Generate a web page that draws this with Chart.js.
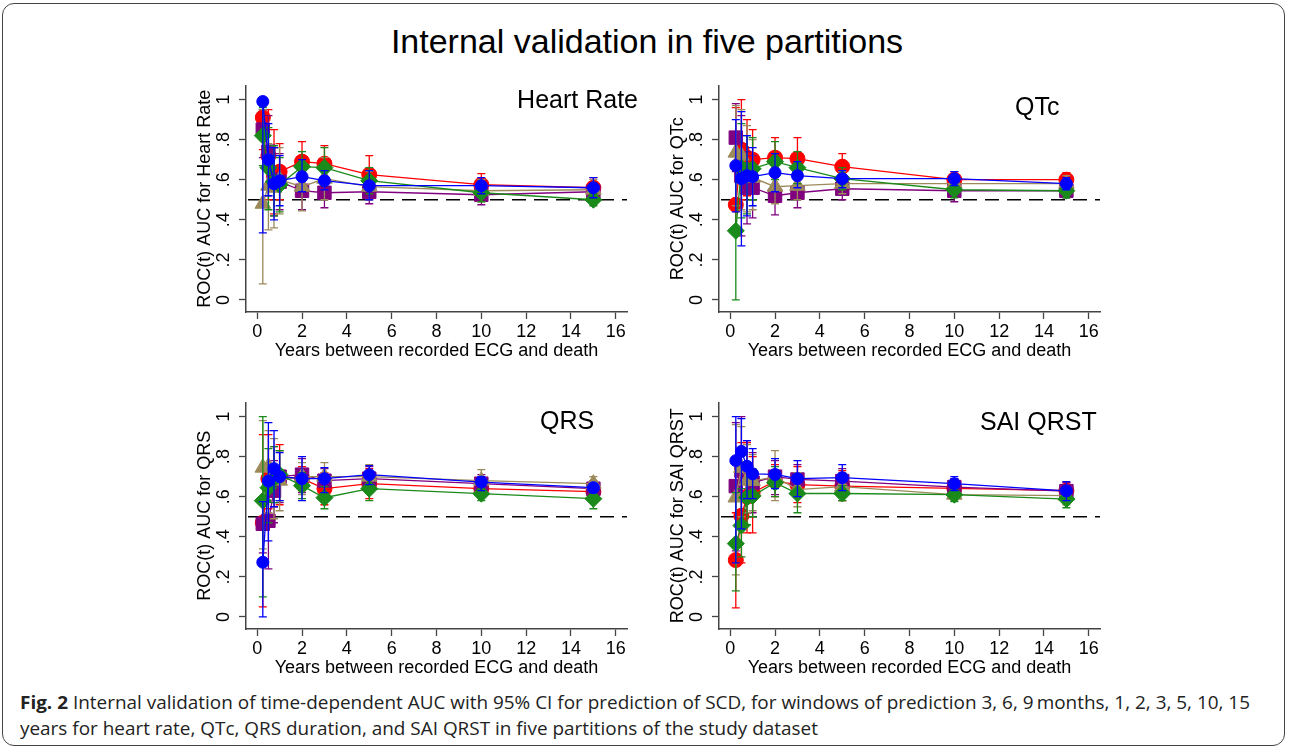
<!DOCTYPE html>
<html>
<head>
<meta charset="utf-8">
<script src="https://cdn.jsdelivr.net/npm/chart.js@4.4.1/dist/chart.umd.min.js"></script>
<style>
  html, body { margin: 0; padding: 0; background: #fff; }
  body { width: 1290px; height: 752px; position: relative; overflow: hidden; font-family: "Liberation Sans", Arial, sans-serif; }
  #frame { position: absolute; left: 2px; top: 3px; width: 1283px; height: 743px; border: 1.2px solid #444; border-radius: 12px; box-sizing: border-box; }
  #title { position: absolute; left: 0; width: 1294px; top: 21px; text-align: center; font-size: 34px; line-height: 40px; color: #000; }
  canvas { position: absolute; }
  #caption { position: absolute; left: 20px; top: 689px; font-family: "Open Sans", sans-serif; font-size: 18.5px; line-height: 26px; color: #222; white-space: nowrap; transform-origin: 0 0; }
  #caption b { font-weight: 700; }
</style>
</head>
<body>
<div id="frame"></div>
<div id="title">Internal validation in five partitions</div>
<canvas id="c1" width="460" height="290" style="left:180px;top:75px"></canvas>
<canvas id="c2" width="460" height="290" style="left:653px;top:75px"></canvas>
<canvas id="c3" width="460" height="290" style="left:180px;top:392px"></canvas>
<canvas id="c4" width="460" height="290" style="left:653px;top:392px"></canvas>
<div id="caption"><span id="cap1"><b>Fig. 2</b> Internal validation of time-dependent AUC with 95% CI for prediction of SCD, for windows of prediction 3, 6, 9&#8201;months, 1, 2, 3, 5, 10, 15</span><br><span>years for heart rate, QTc, QRS duration, and SAI QRST in five partitions of the study dataset</span></div>
<script>
// ---- data ----
const years = [0.25, 0.5, 0.75, 1, 2, 3, 5, 10, 15];
const xTickValues = [0, 2, 4, 6, 8, 10, 12, 14, 16];
const yTickValues = [0, 0.2, 0.4, 0.6, 0.8, 1];
const yTickLabels = ["0", ".2", ".4", ".6", ".8", "1"];
const panelNames = ["Heart Rate", "QTc", "QRS", "SAI QRST"];
const xTitle = "Years between recorded ECG and death";

// Heart Rate
const hrRed      = [0.91, 0.72, 0.62, 0.64, 0.69, 0.68, 0.625, 0.575, 0.56];
const hrRedLo    = [0.75, 0.50, 0.43, 0.50, 0.59, 0.59, 0.53, 0.52, 0.51];
const hrRedHi    = [0.95, 0.95, 0.85, 0.78, 0.79, 0.77, 0.72, 0.63, 0.61];
const hrPurple   = [0.85, 0.74, 0.60, 0.59, 0.545, 0.535, 0.54, 0.525, 0.54];
const hrPurpleLo = [0.71, 0.52, 0.42, 0.45, 0.45, 0.46, 0.48, 0.475, 0.50];
const hrPurpleHi = [0.95, 0.92, 0.76, 0.73, 0.64, 0.61, 0.60, 0.57, 0.58];
const hrSand     = [0.48, 0.57, 0.56, 0.60, 0.565, 0.605, 0.565, 0.545, 0.55];
const hrSandLo   = [0.08, 0.35, 0.36, 0.43, 0.445, 0.50, 0.50, 0.49, 0.51];
const hrSandHi   = [0.95, 0.78, 0.77, 0.76, 0.70, 0.71, 0.64, 0.60, 0.60];
const hrGreen    = [0.82, 0.66, 0.59, 0.575, 0.665, 0.66, 0.595, 0.535, 0.50];
const hrGreenLo  = [0.67, 0.45, 0.42, 0.44, 0.59, 0.57, 0.53, 0.49, 0.47];
const hrGreenHi  = [0.96, 0.86, 0.77, 0.71, 0.74, 0.76, 0.66, 0.58, 0.53];
const hrBlue     = [0.99, 0.70, 0.58, 0.595, 0.615, 0.595, 0.57, 0.57, 0.56];
const hrBlueLo   = [0.335, 0.52, 0.40, 0.47, 0.54, 0.55, 0.50, 0.53, 0.51];
const hrBlueHi   = [1.0, 0.88, 0.76, 0.72, 0.70, 0.645, 0.645, 0.61, 0.61];

// QTc
const qtRed      = [0.475, 0.75, 0.71, 0.70, 0.71, 0.705, 0.665, 0.60, 0.60];
const qtRedLo    = [0.36, 0.50, 0.52, 0.55, 0.61, 0.60, 0.61, 0.565, 0.565];
const qtRedHi    = [0.96, 1.0, 0.90, 0.85, 0.81, 0.81, 0.73, 0.64, 0.635];
const qtPurple   = [0.81, 0.62, 0.56, 0.56, 0.52, 0.535, 0.555, 0.545, 0.545];
const qtPurpleLo = [0.64, 0.32, 0.38, 0.41, 0.425, 0.46, 0.50, 0.49, 0.51];
const qtPurpleHi = [0.98, 0.92, 0.74, 0.72, 0.62, 0.61, 0.61, 0.59, 0.58];
const qtSand     = [0.735, 0.72, 0.65, 0.61, 0.565, 0.57, 0.58, 0.58, 0.58];
const qtSandLo   = [0.47, 0.45, 0.44, 0.45, 0.48, 0.50, 0.53, 0.54, 0.54];
const qtSandHi   = [0.97, 0.95, 0.87, 0.80, 0.66, 0.64, 0.64, 0.62, 0.62];
const qtGreen    = [0.345, 0.66, 0.65, 0.655, 0.69, 0.66, 0.605, 0.55, 0.545];
const qtGreenLo  = [0.0, 0.41, 0.43, 0.50, 0.60, 0.58, 0.55, 0.51, 0.51];
const qtGreenHi  = [0.68, 0.88, 0.82, 0.81, 0.79, 0.74, 0.66, 0.59, 0.58];
const qtBlue     = [0.67, 0.605, 0.62, 0.615, 0.635, 0.62, 0.605, 0.605, 0.58];
const qtBlueLo   = [0.44, 0.27, 0.42, 0.47, 0.54, 0.56, 0.56, 0.57, 0.55];
const qtBlueHi   = [0.90, 0.94, 0.82, 0.76, 0.73, 0.69, 0.645, 0.64, 0.61];

// QRS
const qrsRed      = [0.47, 0.69, 0.70, 0.70, 0.69, 0.64, 0.665, 0.64, 0.625];
const qrsRedLo    = [0.05, 0.54, 0.55, 0.56, 0.63, 0.56, 0.59, 0.60, 0.58];
const qrsRedHi    = [0.91, 0.91, 0.85, 0.86, 0.75, 0.72, 0.74, 0.69, 0.67];
const qrsPurple   = [0.465, 0.48, 0.63, 0.70, 0.71, 0.68, 0.69, 0.665, 0.64];
const qrsPurpleLo = [0.32, 0.24, 0.47, 0.57, 0.62, 0.58, 0.62, 0.60, 0.59];
const qrsPurpleHi = [0.60, 0.75, 0.78, 0.83, 0.79, 0.74, 0.75, 0.71, 0.68];
const qrsSand     = [0.745, 0.75, 0.72, 0.68, 0.70, 0.70, 0.70, 0.68, 0.665];
const qrsSandLo   = [0.34, 0.52, 0.49, 0.53, 0.61, 0.62, 0.62, 0.63, 0.61];
const qrsSandHi   = [0.98, 0.93, 0.89, 0.83, 0.77, 0.77, 0.76, 0.735, 0.70];
const qrsGreen    = [0.58, 0.645, 0.69, 0.71, 0.655, 0.595, 0.64, 0.615, 0.59];
const qrsGreenLo  = [0.10, 0.47, 0.57, 0.58, 0.59, 0.54, 0.58, 0.58, 0.54];
const qrsGreenHi  = [1.0, 0.84, 0.85, 0.83, 0.72, 0.65, 0.70, 0.655, 0.63];
const qrsBlue     = [0.273, 0.678, 0.74, 0.70, 0.69, 0.69, 0.71, 0.673, 0.645];
const qrsBlueLo   = [0.0, 0.38, 0.55, 0.58, 0.58, 0.62, 0.66, 0.63, 0.62];
const qrsBlueHi   = [0.575, 0.97, 0.93, 0.82, 0.80, 0.745, 0.755, 0.70, 0.665];

// SAI QRST
const saiRed      = [0.284, 0.505, 0.60, 0.62, 0.678, 0.66, 0.653, 0.642, 0.63];
const saiRedLo    = [0.045, 0.27, 0.42, 0.42, 0.60, 0.57, 0.58, 0.60, 0.57];
const saiRedHi    = [0.52, 0.87, 0.87, 0.80, 0.76, 0.75, 0.73, 0.69, 0.67];
const saiPurple   = [0.653, 0.73, 0.70, 0.67, 0.70, 0.686, 0.678, 0.648, 0.628];
const saiPurpleLo = [0.33, 0.46, 0.52, 0.52, 0.61, 0.60, 0.60, 0.60, 0.57];
const saiPurpleHi = [0.97, 1.0, 0.88, 0.82, 0.78, 0.76, 0.74, 0.69, 0.67];
const saiSand     = [0.596, 0.744, 0.68, 0.678, 0.70, 0.635, 0.65, 0.61, 0.605];
const saiSandLo   = [0.21, 0.50, 0.52, 0.53, 0.58, 0.55, 0.58, 0.58, 0.56];
const saiSandHi   = [0.96, 0.95, 0.86, 0.81, 0.83, 0.72, 0.72, 0.65, 0.645];
const saiGreen    = [0.366, 0.456, 0.596, 0.604, 0.67, 0.616, 0.616, 0.61, 0.588];
const saiGreenLo  = [0.13, 0.30, 0.46, 0.50, 0.60, 0.52, 0.58, 0.575, 0.545];
const saiGreenHi  = [0.62, 0.64, 0.74, 0.74, 0.75, 0.70, 0.655, 0.645, 0.63];
const saiBlue     = [0.78, 0.826, 0.752, 0.714, 0.711, 0.69, 0.695, 0.665, 0.629];
const saiBlueLo   = [0.27, 0.44, 0.59, 0.59, 0.64, 0.60, 0.63, 0.63, 0.58];
const saiBlueHi   = [1.0, 0.99, 0.88, 0.84, 0.79, 0.78, 0.76, 0.70, 0.675];

// ---- styles ----
const partitionStyles = [
  { color: '#ff0000', pointStyle: 'circle',   radius: 7.5 },
  { color: '#800080', pointStyle: 'rect',     radius: 9.5 },
  { color: '#9c8a5a', pointStyle: 'triangle', radius: 9 },
  { color: '#1a8a1a', pointStyle: 'rectRot',  radius: 8.5 },
  { color: '#0000ff', pointStyle: 'circle',   radius: 6 }
];

const FONT = "'Liberation Sans', Arial, sans-serif";

const errorBars = {
  id: 'errorBars',
  beforeDatasetDraw(chart, args) {
    const ds = chart.data.datasets[args.index];
    if (!ds.lo) return;
    const xs = chart.scales.x, ys = chart.scales.y, ctx = chart.ctx;
    ctx.save();
    ctx.strokeStyle = ds.borderColor;
    ctx.lineWidth = 1.3;
    ds.data.forEach((p, i) => {
      const x = xs.getPixelForValue(p.x);
      const y1 = ys.getPixelForValue(ds.lo[i]);
      const y2 = ys.getPixelForValue(ds.hi[i]);
      ctx.beginPath();
      ctx.moveTo(x, y1); ctx.lineTo(x, y2);
      ctx.moveTo(x - 4, y1); ctx.lineTo(x + 4, y1);
      ctx.moveTo(x - 4, y2); ctx.lineTo(x + 4, y2);
      ctx.stroke();
    });
    ctx.restore();
  }
};

const refLine = {
  id: 'refLine',
  beforeDatasetsDraw(chart) {
    const ys = chart.scales.y, a = chart.chartArea, ctx = chart.ctx;
    const y = ys.getPixelForValue(0.5);
    ctx.save();
    ctx.strokeStyle = '#000';
    ctx.lineWidth = 1.5;
    ctx.setLineDash([14, 8]);
    ctx.beginPath();
    ctx.moveTo(a.left + 2, y); ctx.lineTo(a.right, y);
    ctx.stroke();
    ctx.restore();
  }
};

const panelLabel = {
  id: 'panelLabel',
  afterDraw(chart, args, opts) {
    const ctx = chart.ctx;
    ctx.save();
    ctx.font = '25px ' + FONT;
    ctx.fillStyle = '#000';
    ctx.textAlign = opts.align;
    ctx.textBaseline = 'alphabetic';
    ctx.fillText(opts.text, opts.x, opts.y);
    ctx.restore();
  }
};

function noPad(s) { s.paddingTop = 0; s.paddingBottom = 0; s.paddingLeft = 0; s.paddingRight = 0; }

function makeChart(id, series, name, label) {
  const datasets = series.map((s, k) => {
    const st = partitionStyles[k];
    return {
      data: years.map((x, i) => ({ x: x, y: s[0][i] })),
      lo: s[1], hi: s[2],
      borderColor: st.color, backgroundColor: st.color,
      pointBackgroundColor: st.color, pointBorderColor: st.color,
      borderWidth: 1.3, pointBorderWidth: 1,
      pointStyle: st.pointStyle, pointRadius: st.radius,
      tension: 0, clip: false, order: 5 - k
    };
  });
  const tickFont = { family: FONT, size: 18 };
  new Chart(document.getElementById(id), {
    type: 'line',
    data: { datasets: datasets },
    plugins: [errorBars, refLine, panelLabel],
    options: {
      responsive: false, animation: false, events: [],
      layout: { padding: { top: 8, right: 13, left: 0, bottom: 0 } },
      plugins: { legend: { display: false }, tooltip: { enabled: false }, panelLabel: label },
      scales: {
        x: {
          type: 'linear', min: -0.5, max: 16.5,
          afterBuildTicks: s => { s.ticks = xTickValues.map(v => ({ value: v })); },
          afterFit: s => { s.height = 53; noPad(s); },
          ticks: { color: '#000', font: tickFont, padding: 2, maxRotation: 0, callback: v => String(v) },
          grid: { drawOnChartArea: false, drawTicks: true, tickLength: 7, color: '#444', tickWidth: 1.3 },
          border: { display: true, color: '#444', width: 1.5 },
          title: { display: true, text: xTitle, color: '#000', font: tickFont, padding: { top: 0, bottom: 3 } }
        },
        y: {
          type: 'linear', min: -0.06, max: 1.07,
          afterBuildTicks: s => { s.ticks = yTickValues.map(v => ({ value: v })); },
          afterFit: s => { s.width = 66; noPad(s); },
          ticks: { color: '#000', font: tickFont, padding: 7, minRotation: 90, maxRotation: 90, crossAlign: 'center',
                   callback: (v) => yTickLabels[yTickValues.findIndex(t => Math.abs(t - v) < 1e-9)] },
          grid: { drawOnChartArea: false, drawTicks: true, tickLength: 7, color: '#444', tickWidth: 1.3 },
          border: { display: true, color: '#444', width: 1.5 },
          title: { display: true, text: 'ROC(t) AUC for ' + name, color: '#000', font: tickFont, padding: { top: 14, bottom: 0 } }
        }
      }
    }
  });
}

makeChart('c1', [[hrRed, hrRedLo, hrRedHi], [hrPurple, hrPurpleLo, hrPurpleHi], [hrSand, hrSandLo, hrSandHi], [hrGreen, hrGreenLo, hrGreenHi], [hrBlue, hrBlueLo, hrBlueHi]],
  panelNames[0], { text: panelNames[0], x: 458, y: 33, align: 'right' });
makeChart('c2', [[qtRed, qtRedLo, qtRedHi], [qtPurple, qtPurpleLo, qtPurpleHi], [qtSand, qtSandLo, qtSandHi], [qtGreen, qtGreenLo, qtGreenHi], [qtBlue, qtBlueLo, qtBlueHi]],
  panelNames[1], { text: panelNames[1], x: 362, y: 40, align: 'left' });
makeChart('c3', [[qrsRed, qrsRedLo, qrsRedHi], [qrsPurple, qrsPurpleLo, qrsPurpleHi], [qrsSand, qrsSandLo, qrsSandHi], [qrsGreen, qrsGreenLo, qrsGreenHi], [qrsBlue, qrsBlueLo, qrsBlueHi]],
  panelNames[2], { text: panelNames[2], x: 360, y: 37, align: 'left' });
makeChart('c4', [[saiRed, saiRedLo, saiRedHi], [saiPurple, saiPurpleLo, saiPurpleHi], [saiSand, saiSandLo, saiSandHi], [saiGreen, saiGreenLo, saiGreenHi], [saiBlue, saiBlueLo, saiBlueHi]],
  panelNames[3], { text: panelNames[3], x: 327, y: 38, align: 'left' });

// fit caption width to the reference line length
const cap = document.getElementById('caption');
const w1 = document.getElementById('cap1').getBoundingClientRect().width;
cap.style.transform = 'scaleX(' + (1230 / w1) + ')';
</script>
</body>
</html>
